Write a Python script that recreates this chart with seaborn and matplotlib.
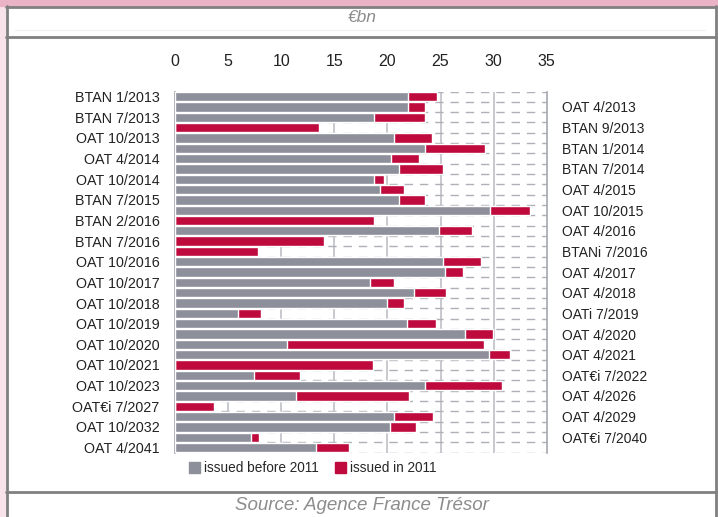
import numpy as np
import pandas as pd
import matplotlib
matplotlib.use('Agg')
import matplotlib.pyplot as plt
from matplotlib.patches import Patch, Rectangle
from matplotlib.lines import Line2D
import seaborn as sns

# bonds from top to bottom (left labels on even rows, right labels on odd rows)
bonds = ['BTAN 1/2013', 'OAT 4/2013', 'BTAN 7/2013', 'BTAN 9/2013', 'OAT 10/2013',
         'BTAN 1/2014', 'OAT 4/2014', 'BTAN 7/2014', 'OAT 10/2014', 'OAT 4/2015',
         'BTAN 7/2015', 'OAT 10/2015', 'BTAN 2/2016', 'OAT 4/2016', 'BTAN 7/2016',
         'BTANi 7/2016', 'OAT 10/2016', 'OAT 4/2017', 'OAT 10/2017', 'OAT 4/2018',
         'OAT 10/2018', 'OATi 7/2019', 'OAT 10/2019', 'OAT 4/2020', 'OAT 10/2020',
         'OAT 4/2021', 'OAT 10/2021', 'OAT€i 7/2022', 'OAT 10/2023', 'OAT 4/2026',
         'OAT€i 7/2027', 'OAT 4/2029', 'OAT 10/2032', 'OAT€i 7/2040', 'OAT 4/2041']
# €bn outstanding before 2011
before_2011 = [21.9, 21.9, 18.7, 0.0, 20.6, 23.5, 20.3, 21.1, 18.7, 19.3,
               21.1, 29.7, 0.0, 24.9, 0.0, 0.0, 25.2, 25.4, 18.4, 22.5,
               20.0, 5.9, 21.8, 27.3, 10.5, 29.6, 0.0, 7.4, 23.5, 11.4,
               0.0, 20.6, 20.2, 7.2, 13.3]
# €bn issued in 2011
in_2011 = [2.8, 1.6, 4.8, 13.6, 3.6, 5.7, 2.7, 4.1, 1.0, 2.3,
           2.4, 3.7, 18.7, 3.1, 14.0, 7.8, 3.6, 1.7, 2.2, 3.0,
           1.6, 2.2, 2.8, 2.6, 18.6, 1.9, 18.6, 4.4, 7.3, 10.6,
           3.7, 3.7, 2.5, 0.7, 3.1]

df = pd.DataFrame({'bond': bonds, 'before': before_2011, 'in2011': in_2011})
df['total'] = df['before'] + df['in2011']

GREY = '#8d909b'
RED = '#be0a3c'

sns.set_style('white')
plt.rcParams['font.family'] = ['Liberation Sans', 'DejaVu Sans']

W, H = 718, 517
fig = plt.figure(figsize=(W / 100, H / 100), dpi=100)

# frame decoration
fig.add_artist(Rectangle((0, 0), 1, 1, transform=fig.transFigure, color='white', zorder=-10))
fig.add_artist(Rectangle((0, 0), 6 / W, 1, transform=fig.transFigure, color='#f9e3ea', zorder=-9))
fig.add_artist(Rectangle((0, 1 - 6 / H), 1, 6 / H, transform=fig.transFigure, color='#ebb3c6', zorder=-8))
for yy in [7, 37, 492]:
    fig.add_artist(Line2D([6 / W, 716 / W], [1 - yy / H] * 2, transform=fig.transFigure,
                          color='#808080', lw=2))
for xx in [6.5, 715.5]:
    fig.add_artist(Line2D([xx / W] * 2, [0, 1 - 6 / H], transform=fig.transFigure,
                          color='#808080', lw=2))
fig.add_artist(Line2D([15 / W, 705 / W], [1 - 29.5 / H] * 2, transform=fig.transFigure,
                      color='#f2f2f2', lw=1))
fig.text(362 / W, 1 - 18 / H, '€bn', ha='center', va='center', fontsize=12.5,
         style='italic', color='#8c8c8c')
fig.text(362 / W, 1 - 505 / H, 'Source: Agence France Trésor', ha='center', va='center',
         fontsize=13.5, style='italic', color='#8c8c8c')

x0, x1, y0, y1 = 175, 546.7, 91.5, 452.7
ax = fig.add_axes([x0 / W, 1 - y1 / H, (x1 - x0) / W, (y1 - y0) / H])

sns.barplot(data=df, y='bond', x='total', color=RED, saturation=1, width=0.9,
            errorbar=None, orient='h', ax=ax, zorder=3)
sns.barplot(data=df, y='bond', x='before', color=GREY, saturation=1, width=0.9,
            errorbar=None, orient='h', ax=ax, zorder=3)

n = len(bonds)
ax.set_xlim(0, 35)
ax.set_ylim(n - 0.5, -0.5)
ax.set_xlabel('')
ax.set_ylabel('')

# grid: solid verticals, dashed band edges
for v in range(5, 35, 5):
    ax.axvline(v, color='#b9bac2', lw=1.1, zorder=1)
for e in np.arange(-0.5, n, 1.0):
    ax.axhline(e, color='#aeb0b8', lw=1.0, ls=(0, (6, 5)), zorder=1)

for s in ['top', 'bottom']:
    ax.spines[s].set_visible(False)
for s in ['left', 'right']:
    ax.spines[s].set_color('#a6a8b0')
    ax.spines[s].set_linewidth(1.2)

ax.xaxis.tick_top()
ax.set_xticks(range(0, 36, 5))
ax.tick_params(axis='x', length=0, pad=16, labelsize=11.5, labelcolor='#222222')

idx = np.arange(n)
ax.set_yticks(idx[::2])
ax.set_yticklabels(bonds[::2], fontsize=10.3, color='#222222')
ax.tick_params(axis='y', length=0, pad=11)

ax2 = ax.twinx()
ax2.set_ylim(ax.get_ylim())
ax2.set_yticks(idx[1::2])
ax2.set_yticklabels(bonds[1::2], fontsize=10, color='#222222')
ax2.tick_params(axis='y', length=0, pad=11)
for s in ax2.spines.values():
    s.set_visible(False)

handles = [Patch(color=GREY, label='issued before 2011'), Patch(color=RED, label='issued in 2011')]
fig.legend(handles=handles, loc='center', bbox_to_anchor=(313 / W, 1 - 468 / H), ncol=2,
           frameon=False, handlelength=0.8, handleheight=0.9, handletextpad=0.3,
           columnspacing=1.2, prop={'size': 9.8})

fig.savefig('out.png', dpi=100)
